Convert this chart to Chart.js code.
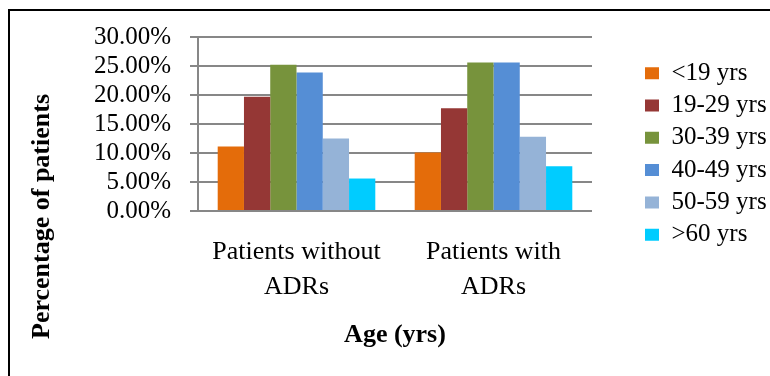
<!DOCTYPE html>
<html>
<head>
<meta charset="utf-8">
<script src="https://cdn.jsdelivr.net/npm/chart.js@4"></script>
<style>
  html, body { margin: 0; padding: 0; background: #fff; }
  #wrap { position: relative; width: 770px; height: 376px; overflow: hidden; }
  #frame { position: absolute; left: 8px; top: 9px; width: 800px; height: 400px;
           border-left: 2px solid #000; border-top: 2px solid #000; }
  canvas { position: absolute; left: 0; top: 0; }
</style>
</head>
<body>
<div id="wrap">
  <div id="frame"></div>
  <canvas id="c" width="770" height="376"></canvas>
</div>
<script>
// ---- data ----
const categories = [["Patients without", "ADRs"], ["Patients with", "ADRs"]];
const seriesNames = ["<19 yrs", "19-29 yrs", "30-39 yrs", "40-49 yrs", "50-59 yrs", ">60 yrs"];
const seriesColors = ["#E46C0A", "#953735", "#77933C", "#558ED5", "#95B3D7", "#00CCFF"];
const under19 = [11.1, 10.1];
const age19to29 = [19.7, 17.7];
const age30to39 = [25.2, 25.6];
const age40to49 = [23.9, 25.6];
const age50to59 = [12.5, 12.8];
const over60 = [5.6, 7.7];
const yTicks = [0, 5, 10, 15, 20, 25, 30];
const xTitle = "Age (yrs)";
const yTitle = "Percentage of patients";

const seriesValues = [under19, age19to29, age30to39, age40to49, age50to59, over60];
const FONT = "'Liberation Serif', 'Times New Roman', serif";
const GRID = "#878787";
const LEG_SIZE = 25, LEG_BOX = 14, LEG_PAD = 7.3;

// legend natural width, so the plot area can end at the right spot
const mctx = document.createElement('canvas').getContext('2d');
mctx.font = LEG_SIZE + "px " + FONT;
const maxText = Math.max(...seriesNames.map(s => mctx.measureText(s).width));
const legendW = LEG_PAD + LEG_BOX + LEG_SIZE / 2 + maxText + 10;
const plotRight = 592;
const padRight = Math.max(0, 770 - plotRight - legendW);

const yTitlePlugin = {
  id: 'yTitle',
  afterDraw(chart) {
    const ctx = chart.ctx;
    ctx.save();
    ctx.translate(42, 216.5);
    ctx.rotate(-Math.PI / 2);
    ctx.font = "bold 26px " + FONT;
    ctx.fillStyle = "#000";
    ctx.textAlign = "center";
    ctx.textBaseline = "middle";
    ctx.fillText(yTitle, 0, 0);
    ctx.restore();
  }
};

const legendPlace = {
  id: 'legendPlace',
  afterLayout(chart) {
    const lg = chart.legend;
    if (!lg) return;
    const w = lg.right - lg.left, h = lg.bottom - lg.top;
    lg.left = 637.7; lg.right = lg.left + w + 40;
    lg.width = lg.right - lg.left;
    lg.top = 53.4; lg.bottom = lg.top + h;
  }
};

new Chart(document.getElementById('c'), {
  type: 'bar',
  data: {
    labels: categories,
    datasets: seriesNames.map((n, i) => ({
      label: n,
      data: seriesValues[i],
      backgroundColor: seriesColors[i],
      borderWidth: 0,
      categoryPercentage: 0.8,
      barPercentage: 1.0
    }))
  },
  options: {
    responsive: false,
    animation: false,
    layout: { padding: { left: 0, top: 37, right: padRight, bottom: 0 } },
    plugins: {
      tooltip: { enabled: false },
      legend: {
        position: 'right',
        align: 'start',
        labels: {
          font: { family: FONT, size: LEG_SIZE },
          color: '#000',
          boxWidth: LEG_BOX,
          boxHeight: 12,
          padding: LEG_PAD
        }
      }
    },
    scales: {
      x: {
        grid: { display: false, drawTicks: false },
        border: { display: false },
        ticks: {
          color: '#000',
          font: { family: FONT, size: 26, lineHeight: '35px' },
          padding: 23.5,
          maxRotation: 0,
          autoSkip: false
        },
        title: {
          display: true,
          text: xTitle,
          color: '#000',
          font: { family: FONT, size: 26, weight: 'bold' },
          padding: { top: 0, bottom: 25.4 }
        },
        afterFit(scale) { scale.height = 165; }
      },
      y: {
        min: 0,
        max: 30,
        afterBuildTicks(scale) { scale.ticks = yTicks.map(v => ({ value: v })); },
        grid: { color: GRID, lineWidth: 2, tickLength: 8, tickColor: GRID, drawTicks: true },
        border: { display: true, color: GRID, width: 2 },
        ticks: {
          color: '#000',
          autoSkip: false,
          font: { family: FONT, size: 25 },
          padding: 19,
          callback: v => v.toFixed(2) + '%'
        },
        afterFit(scale) { scale.width = 198; }
      }
    }
  },
  plugins: [yTitlePlugin, legendPlace]
});
</script>
</body>
</html>
